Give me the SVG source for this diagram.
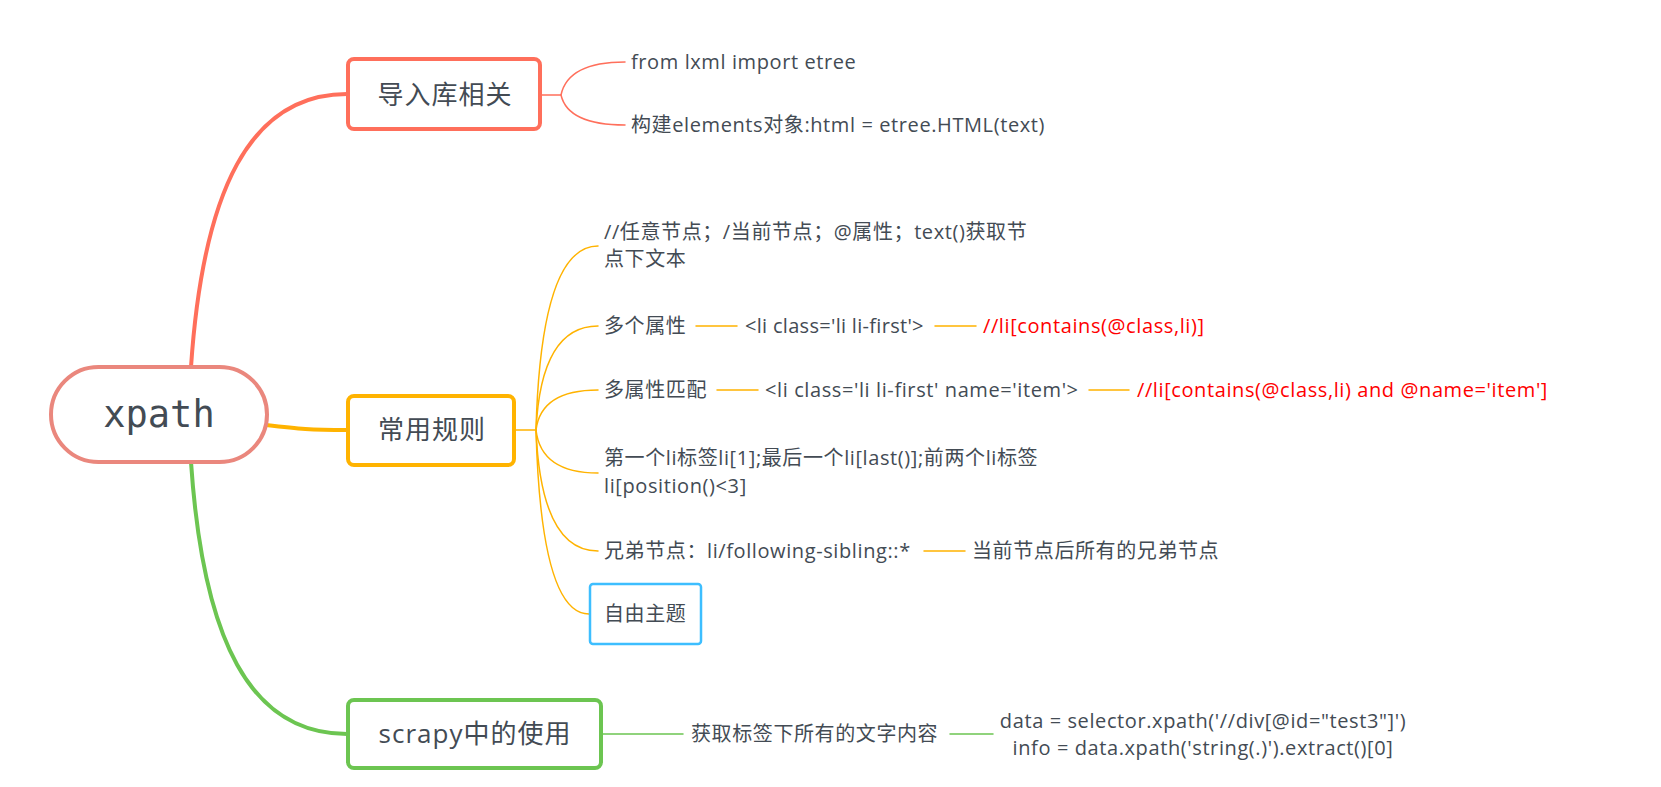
<svg xmlns="http://www.w3.org/2000/svg" width="1661" height="787" viewBox="0 0 1661 787">
<style>
.t{font-family:"Open Sans","Noto Sans CJK SC",sans-serif;font-size:20px;letter-spacing:0.6px;fill:#434B54}
.r{fill:#FF0000}
.bt{font-family:"Open Sans","Noto Sans CJK SC",sans-serif;font-size:26px;letter-spacing:1px;fill:#434B54;text-anchor:middle}
.c{fill:none;stroke-linecap:round}
.red{stroke:#FF6F5B}
.org{stroke:#FFB300}
.grn{stroke:#6CC551}
.thin{stroke-width:1.5}
.thick{stroke-width:4}
</style>
<rect width="1661" height="787" fill="#FFFFFF"/>
<g id="connectors">
<path class="c red thick" d="M191,367 C203,190 250,94 347,94"/>
<path class="c org thick" d="M266,425 C300,429 310,430 347,430"/>
<path class="c grn thick" d="M191,462 C203,640 250,734 347,734"/>
<path class="c red thin" d="M541,95 L561,95 Q568,62 625,62"/>
<path class="c red thin" d="M561,95 Q568,125 625,125"/>
<path class="c org thin" d="M515,430 L536,430"/>
<path class="c org thin" d="M536,430 Q541,246 598,246"/>
<path class="c org thin" d="M536,430 Q541,326 598,326"/>
<path class="c org thin" d="M536,430 Q541,390 598,390"/>
<path class="c org thin" d="M536,430 Q541,473 598,473"/>
<path class="c org thin" d="M536,430 Q541,551 598,551"/>
<path class="c org thin" d="M536,430 Q541,614 589,614"/>
<path class="c org thin" d="M696,326 H737 M935,326 H976"/>
<path class="c org thin" d="M717,390 H758 M1089,390 H1129"/>
<path class="c org thin" d="M924,551 H965"/>
<path class="c grn thin" d="M602,734 H683 M950,734 H993"/>
</g>
<g id="root">
<rect x="51" y="367" width="216" height="95" rx="47.5" fill="#FFFFFF" stroke="#EA877D" stroke-width="4"/>
<text x="159" y="427" font-family="DejaVu Sans Mono,monospace" font-size="37" fill="#434B54" text-anchor="middle">xpath</text>
</g>
<g id="n-import">
<rect x="348" y="59" width="192" height="70" rx="6" fill="#FFFFFF" stroke="#FF6F5B" stroke-width="4"/>
<text class="bt" x="445" y="104">导入库相关</text>
</g>
<g id="n-import-1"><text class="t" x="631" y="69">from lxml import etree</text></g>
<g id="n-import-2"><text class="t" x="631" y="132">构建elements对象:html = etree.HTML(text)</text></g>
<g id="n-rules">
<rect x="348" y="396" width="166" height="69" rx="6" fill="#FFFFFF" stroke="#FFB300" stroke-width="4"/>
<text class="bt" x="432" y="439">常用规则</text>
</g>
<g id="n-rule-1"><text class="t" x="604" y="239">//任意节点；/当前节点；@属性；text()获取节</text><text class="t" x="604" y="266">点下文本</text></g>
<g id="n-rule-2"><text class="t" x="604" y="333">多个属性</text></g>
<g id="n-rule-2a"><text class="t" x="745" y="333" style="letter-spacing:0.3px">&lt;li class='li li-first'&gt;</text></g>
<g id="n-rule-2b"><text class="t r" x="983" y="333">//li[contains(@class,li)]</text></g>
<g id="n-rule-3"><text class="t" x="604" y="397">多属性匹配</text></g>
<g id="n-rule-3a"><text class="t" x="765" y="397">&lt;li class='li li-first' name='item'&gt;</text></g>
<g id="n-rule-3b"><text class="t r" x="1137" y="397">//li[contains(@class,li) and @name='item']</text></g>
<g id="n-rule-4"><text class="t" x="604" y="465">第一个li标签li[1];最后一个li[last()];前两个li标签</text><text class="t" x="604" y="493">li[position()&lt;3]</text></g>
<g id="n-rule-5"><text class="t" x="604" y="558">兄弟节点：li/following-sibling::*</text></g>
<g id="n-rule-5a"><text class="t" x="972" y="558">当前节点后所有的兄弟节点</text></g>
<g id="n-free">
<rect x="590" y="584" width="111" height="60" rx="3" fill="#FFFFFF" stroke="#3DBEFF" stroke-width="2.5"/>
<text class="t" x="604" y="621">自由主题</text>
</g>
<g id="n-scrapy">
<rect x="348" y="700" width="253" height="68" rx="6" fill="#FFFFFF" stroke="#6CC551" stroke-width="4"/>
<text class="bt" x="475" y="743">scrapy中的使用</text>
</g>
<g id="n-scrapy-1"><text class="t" x="691" y="741">获取标签下所有的文字内容</text></g>
<g id="n-scrapy-2"><text class="t" x="1203" y="728" text-anchor="middle">data = selector.xpath('//div[@id="test3"]')</text><text class="t" x="1203" y="755" text-anchor="middle">info = data.xpath('string(.)').extract()[0]</text></g>
</svg>
